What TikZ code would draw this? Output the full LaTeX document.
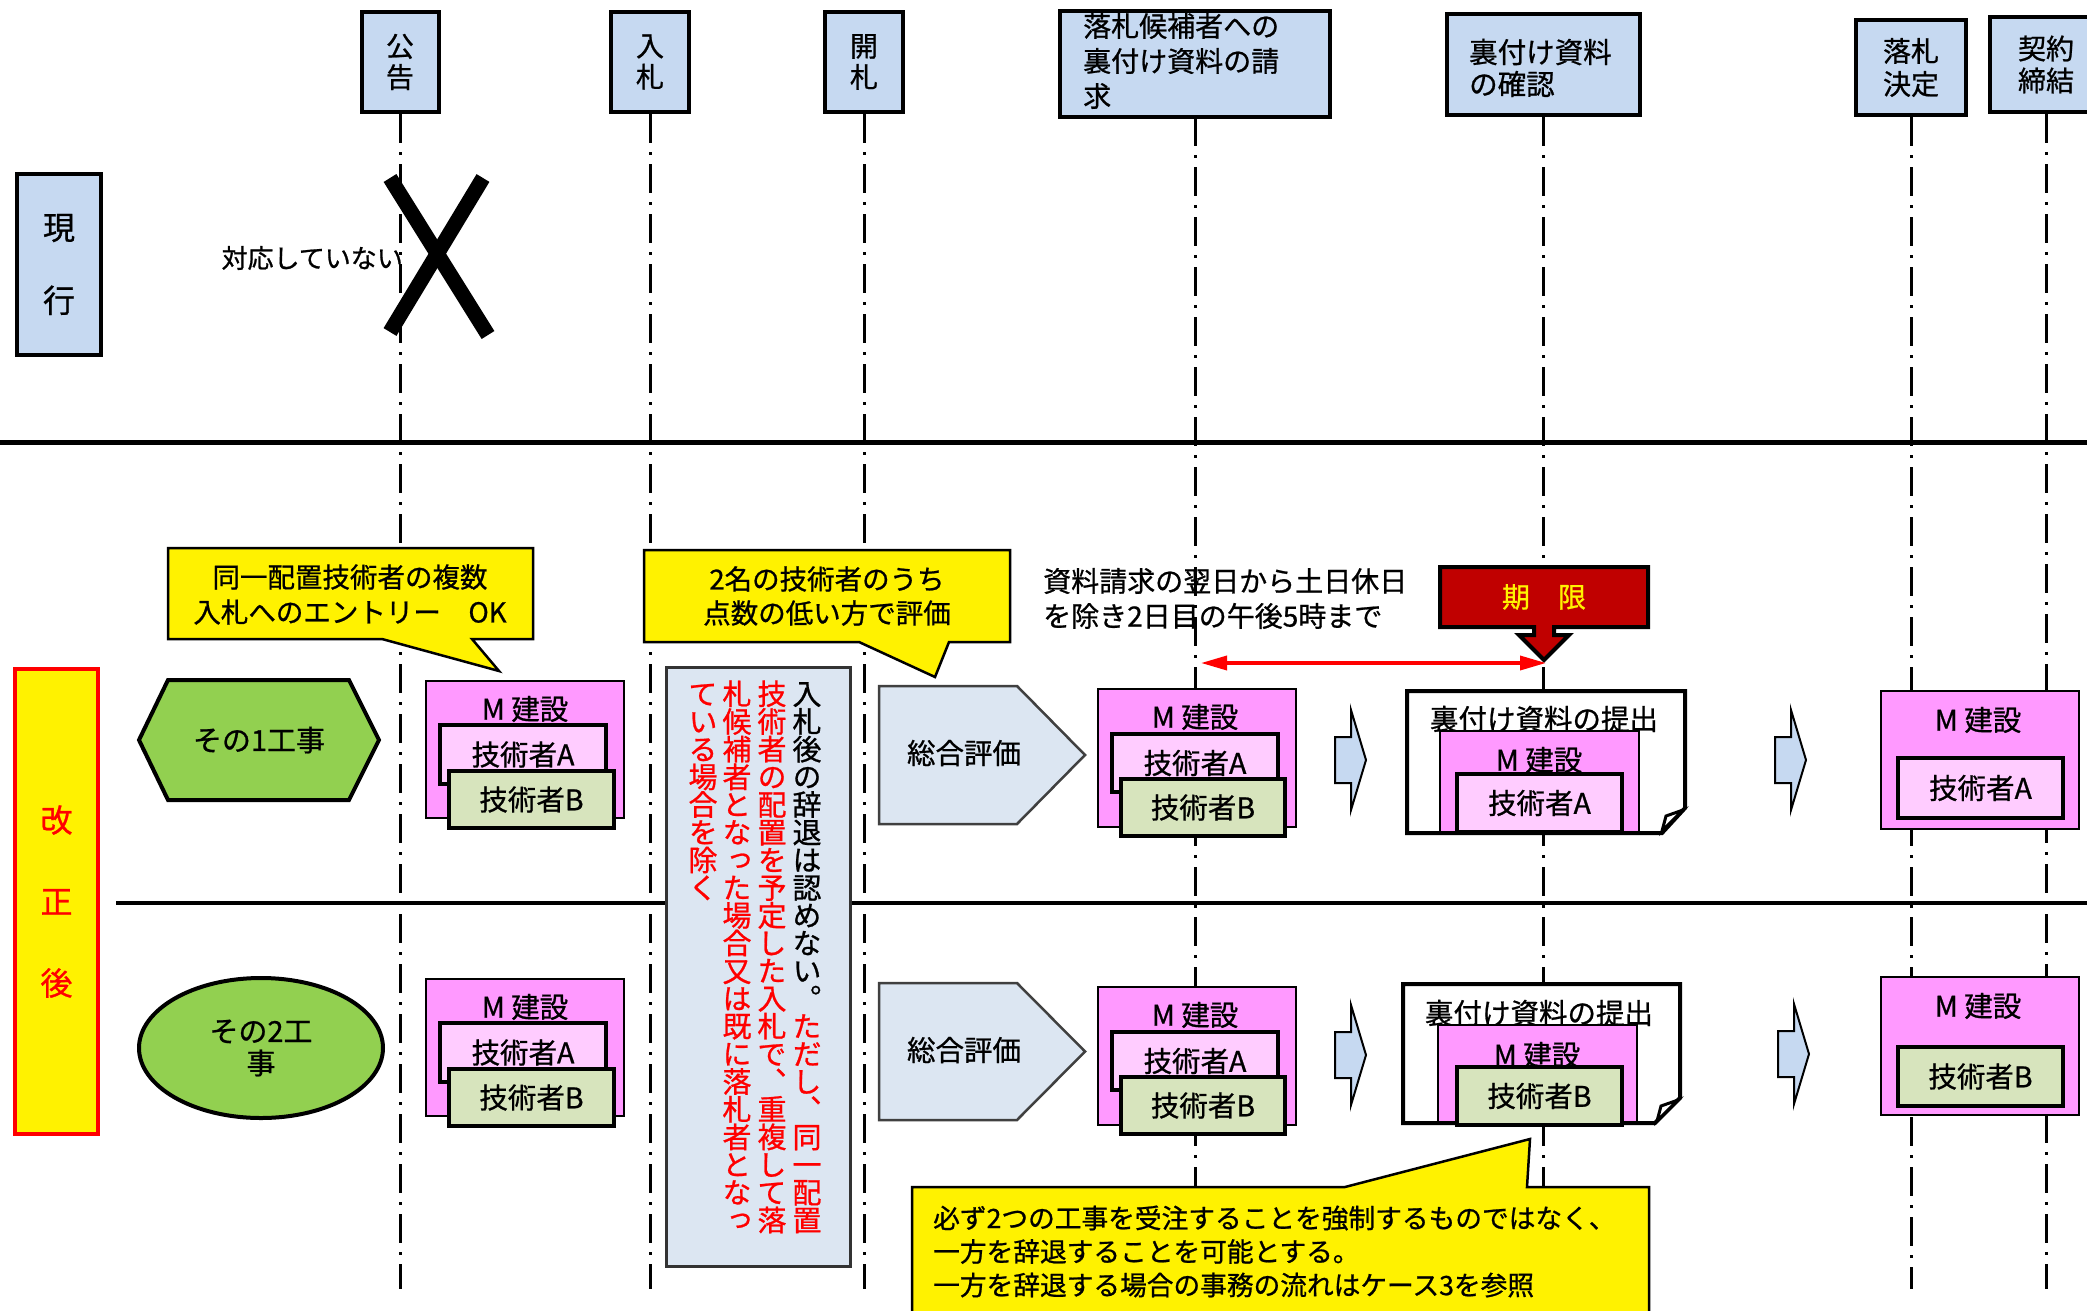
\documentclass[tikz,border=0pt]{standalone}
\usepackage{fontspec}
\setmainfont{Noto Sans CJK JP}[RawFeature={embolden=0.8}]
\newfontfamily\vjp{Noto Sans CJK JP}[RawFeature={+vert;embolden=0.8}]
\usetikzlibrary{shapes.geometric,arrows.meta}
\definecolor{hdrblue}{HTML}{C6D9F1}
\definecolor{lightbg}{HTML}{DCE6F2}
\definecolor{grn}{HTML}{92D050}
\definecolor{pinkc}{HTML}{FF99FF}
\definecolor{lpink}{HTML}{FFCCFF}
\definecolor{techBc}{HTML}{D7E4BD}
\definecolor{dred}{HTML}{C00000}
\newcommand\fsz[2]{\fontsize{#1}{#2}\selectfont}
\newcommand\vstk[1]{\vstkaux#1\relax}
\def\vstkaux#1{\ifx\relax#1\else\hbox to 1em{\hss\vrule height .88em depth .12em width 0pt\vcol #1\hss}\expandafter\vstkaux\fi}
\def\vcol{\color{black}}
\tikzset{
  hdr/.style={draw, line width=4pt, fill=hdrblue, inner sep=0pt, align=center, font=\fsz{28}{31}},
  txt/.style={inner sep=0pt},
  life/.style={line width=3pt, dash pattern=on 29pt off 9pt on 3pt off 9pt},
  ycall/.style={draw, line width=2.5pt, fill=yellow, line join=miter},
  pinkbox/.style={draw, line width=1.5pt, fill=pinkc, inner sep=0pt},
  techA/.style={draw, line width=4pt, fill=lpink, inner sep=0pt, font=\fsz{28.5}{30}},
  techB/.style={draw, line width=4pt, fill=techBc, inner sep=0pt, font=\fsz{28.5}{30}},
  mk/.style={inner sep=0pt, font=\fsz{28.5}{30}},
  pent/.style={draw=black!75, line width=2.5pt, fill=lightbg},
  blk/.style={draw=black, line width=2pt, fill=hdrblue},
  docs/.style={draw, line width=4pt, fill=white, line join=miter},
}
\begin{document}
\begin{tikzpicture}[x=1pt,y=-1pt]
\useasboundingbox (0,0) rectangle (2087,1311);
\fill[white] (0,0) rectangle (2087,1311);

% separating lines
\draw[line width=5pt] (0,442) -- (2087,442);
\draw[line width=3.5pt] (116,903) -- (2087,903);

% header boxes
\node[hdr, minimum width=77, minimum height=100] (koukoku) at (400,62) {公\\告};
\node[hdr, minimum width=78, minimum height=100] (nyusatsu) at (650,62) {入\\札};
\node[hdr, minimum width=78, minimum height=100] (kaisatsu) at (864,62) {開\\札};
\node[hdr, draw=none, minimum width=266, minimum height=102] (seikyu) at (1195,64) {};
\node[hdr, minimum width=193, minimum height=101] (kakunin) at (1543,64.5) {};
\node[hdr, minimum width=110, minimum height=95, font=\fsz{28}{33}] (kettei) at (1911,67.5) {落札\\決定};
\node[hdr, minimum width=112, minimum height=95, font=\fsz{28}{32}] (keiyaku) at (2046,64.5) {契約\\締結};
\node[txt, anchor=west, align=left, font=\fsz{28}{35}] (seikyuT) at (1083,61) {落札候補者への\\裏付け資料の請\\求};
\draw[line width=4pt] (seikyu.north west) rectangle (seikyu.south east);
\node[txt, anchor=west, align=left, font=\fsz{28.5}{32}] (kakuninT) at (1469,68) {裏付け資料\\の確認};

% lifelines
\coordinate (e1) at (400,1289);
\coordinate (e2) at (650,1289);
\coordinate (e3) at (864,1289);
\coordinate (e4) at (1195,1289);
\coordinate (e5) at (1543,1289);
\coordinate (e6) at (1911,1289);
\coordinate (e7) at (2046,1289);
\draw[life] (koukoku.south) -- (e1);
\draw[life] (nyusatsu.south) -- (e2);
\draw[life] (kaisatsu.south) -- (e3);
\draw[life] (seikyu.south) -- (e4);
\draw[life] (kakunin.south) -- (e5);
\draw[life] (kettei.south) -- (e6);
\draw[life] (keiyaku.south) -- (e7);

% current
\node[hdr, minimum width=84, minimum height=181, font=\fsz{32}{73}] (genko) at (59,264.5) {現\\行};
\node[txt, anchor=east, font=\fsz{26}{28}] (taiou) at (403,258) {対応していない};
\draw[line width=15pt] (390,178) -- (488,335);
\draw[line width=15pt] (483,178) -- (390,332);

% revised
\node[draw=red, line width=4pt, fill=yellow, text=red, inner sep=0pt, align=center, font=\fsz{32}{81.5}, minimum width=83, minimum height=465] (kaisei) at (56.5,901.5) {改\\正\\後};

% callout 1
\draw[ycall] (168,548) -- (533,548) -- (533,639) -- (472,639) -- (499,671) -- (382,639) -- (168,639) -- cycle;
\node[txt, align=center, font=\fsz{27.5}{35}] (c1) at (350,594.5) {同一配置技術者の複数\\入札へのエントリー　OK};

% callout 2
\draw[ycall] (644,550) -- (1010,550) -- (1010,642) -- (949,642) -- (935,677) -- (859,642) -- (644,642) -- cycle;
\node[txt, align=center, font=\fsz{27.5}{34}] (c2) at (827,596) {2名の技術者のうち\\点数の低い方で評価};

% deadline text
\node[txt, anchor=west, align=left, font=\fsz{28}{35}] (dl) at (1043,598.5) {資料請求の翌日から土日休日\\を除き2日目の午後5時まで};

% deadline box
\draw[fill=dred, draw=black, line width=4pt, line join=miter] (1440,567) -- (1648,567) -- (1648,627) -- (1554,627) -- (1554,635) -- (1569,635) -- (1544,660) -- (1519,635) -- (1534,635) -- (1534,627) -- (1440,627) -- cycle;
\node[txt, text=yellow, font=\fsz{28}{30}] (kigen) at (1544,597) {期　限};

% red double arrow
\coordinate (ra1) at (1201,663);
\coordinate (ra2) at (1546,663);
\draw[red, line width=3.5pt, {Triangle[length=26pt,width=14pt]}-{Triangle[length=26pt,width=14pt]}] (ra1) -- (ra2);

% hexagon and ellipse
\draw[fill=grn, line width=4pt, line join=miter] (168,680) -- (349,680) -- (379,740) -- (349,800) -- (168,800) -- (139,740) -- cycle;
\node[txt, font=\fsz{29}{31}] (w1) at (259,740) {その1工事};
\node[ellipse, draw, line width=4pt, fill=grn, minimum width=244, minimum height=140, inner sep=0pt, align=center, font=\fsz{29}{32}] (w2) at (261,1048) {その2工\\事};

% M group (koukoku) row 1
\node[pinkbox, minimum width=198, minimum height=137] (m1) at (525,749.5) {};
\node[mk] (m1t) at (525,709) {M 建設};
\node[techA, minimum width=166, minimum height=59] (m1a) at (523,754.5) {技術者A};
\node[techB, minimum width=165, minimum height=57] (m1b) at (531.5,799.5) {技術者B};
% row 2
\node[pinkbox, minimum width=198, minimum height=137] (m2) at (525,1047.5) {};
\node[mk] (m2t) at (525,1007) {M 建設};
\node[techA, minimum width=166, minimum height=59] (m2a) at (523,1052.5) {技術者A};
\node[techB, minimum width=165, minimum height=57] (m2b) at (531.5,1097.5) {技術者B};

% vertical note box
\node[draw=black!80, line width=3pt, fill=lightbg, minimum width=184, minimum height=599, inner sep=0pt] (note) at (758,966.5) {};
\node[txt, anchor=north] (v1) at (807,679) {\vbox{\fsz{29}{27.7}\vjp\lineskiplimit=-100pt \def\vcol{\color{black}}\vstk{入札後の辞退は認めない。}\def\vcol{\color{red}}\vstk{ただし、同一配置}}};
\node[txt, anchor=north] (v2) at (772,679) {\vbox{\fsz{29}{27.7}\vjp\lineskiplimit=-100pt \def\vcol{\color{red}}\vstk{技術者の配置を予定した入札で、重複して落}}};
\node[txt, anchor=north] (v3) at (737,679) {\vbox{\fsz{29}{27.7}\vjp\lineskiplimit=-100pt \def\vcol{\color{red}}\vstk{札候補者となった場合又は既に落札者となっ}}};
\node[txt, anchor=north] (v4) at (703,679) {\vbox{\fsz{29}{27.7}\vjp\lineskiplimit=-100pt \def\vcol{\color{red}}\vstk{ている場合を除く}}};

% pentagons
\draw[pent] (879,686) -- (1017,686) -- (1085,755) -- (1017,824) -- (879,824) -- cycle;
\node[mk] (p1) at (964,753) {総合評価};
\draw[pent] (879,983) -- (1017,983) -- (1085,1051.5) -- (1017,1120) -- (879,1120) -- cycle;
\node[mk] (p2) at (964,1050) {総合評価};

% M group (seikyu)
\node[pinkbox, minimum width=198, minimum height=138] (m3) at (1197,758) {};
\node[mk] (m3t) at (1195,717) {M 建設};
\node[techA, minimum width=166, minimum height=58] (m3a) at (1195,763) {技術者A};
\node[techB, minimum width=164, minimum height=57] (m3b) at (1203,807.5) {技術者B};
\node[pinkbox, minimum width=198, minimum height=138] (m4) at (1197,1056) {};
\node[mk] (m4t) at (1195,1015) {M 建設};
\node[techA, minimum width=166, minimum height=58] (m4a) at (1195,1061) {技術者A};
\node[techB, minimum width=164, minimum height=57] (m4b) at (1203,1105.5) {技術者B};

% small arrows
\draw[blk, shift={(1335,760)}] (0,-23) -- (16,-23) -- (16,-50) -- (31,0) -- (16,50) -- (16,23) -- (0,23) -- cycle;
\draw[blk, shift={(1775,760)}] (0,-23) -- (16,-23) -- (16,-50) -- (31,0) -- (16,50) -- (16,23) -- (0,23) -- cycle;
\draw[blk, shift={(1335,1055)}] (0,-23) -- (16,-23) -- (16,-50) -- (31,0) -- (16,50) -- (16,23) -- (0,23) -- cycle;
\draw[blk, shift={(1778,1054)}] (0,-23) -- (16,-23) -- (16,-50) -- (31,0) -- (16,50) -- (16,23) -- (0,23) -- cycle;

% document row 1
\draw[docs] (1407,691) -- (1685,691) -- (1685,808) -- (1662,833) -- (1407,833) -- cycle;
\node[mk] (d1t) at (1544,719) {裏付け資料の提出};
\node[pinkbox, minimum width=199, minimum height=101] (m5) at (1539.5,781.5) {};
\node[mk] (m5t) at (1539,760) {M 建設};
\node[techA, minimum width=165, minimum height=58] (m5a) at (1539.5,803) {技術者A};
\draw[line width=3pt, fill=white, line join=miter] (1662,831) -- (1666,816) -- (1683,810) -- cycle;
% document row 2
\draw[docs] (1403,984) -- (1680,984) -- (1680,1098) -- (1655,1123) -- (1403,1123) -- cycle;
\node[mk] (d2t) at (1539,1013) {裏付け資料の提出};
\node[pinkbox, minimum width=199, minimum height=97] (m6) at (1537.5,1073.5) {};
\node[mk] (m6t) at (1537,1055) {M 建設};
\node[techB, minimum width=165, minimum height=58] (m6b) at (1539.5,1096) {技術者B};
\draw[line width=3pt, fill=white, line join=miter] (1657,1121) -- (1661,1106) -- (1678,1100) -- cycle;

% right column
\node[pinkbox, minimum width=198, minimum height=138] (m7) at (1980,760) {};
\node[mk] (m7t) at (1978,720) {M 建設};
\node[techA, minimum width=165, minimum height=60] (m7a) at (1980.5,788) {技術者A};
\node[pinkbox, minimum width=198, minimum height=138] (m8) at (1980,1046) {};
\node[mk] (m8t) at (1978,1006) {M 建設};
\node[techB, minimum width=165, minimum height=59] (m8b) at (1980.5,1076.5) {技術者B};

% callout 3
\draw[ycall] (912,1187) -- (1345,1187) -- (1530,1139) -- (1527,1187) -- (1649,1187) -- (1649,1330) -- (912,1330) -- cycle;
\node[txt, anchor=west, align=left, font=\fsz{26.7}{33.5}] (c3) at (933,1251.5) {必ず2つの工事を受注することを強制するものではなく、\\一方を辞退することを可能とする。\\一方を辞退する場合の事務の流れはケース3を参照};
\end{tikzpicture}
\end{document}
